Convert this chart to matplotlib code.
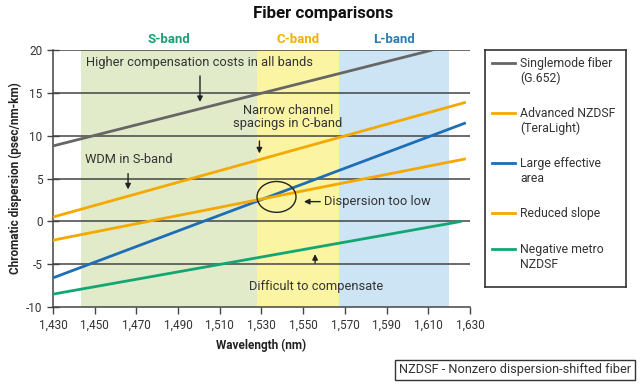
import matplotlib
matplotlib.use("Agg")
import matplotlib.pyplot as plt
from matplotlib.patches import Ellipse
from matplotlib.ticker import FuncFormatter

plt.rcParams['font.family'] = ['Roboto', 'DejaVu Sans']

# fiber lines: start / end wavelength and dispersion
fiber_names = ['Singlemode fiber\n(G.652)', 'Advanced NZDSF\n(TeraLight)',
               'Large effective\narea', 'Reduced slope', 'Negative metro\nNZDSF']
fiber_colors = ['#666666', '#F5A800', '#1E6DB5', '#F5A800', '#13A673']
fiber_x = [[1430, 1612], [1430, 1628], [1430, 1628], [1430, 1628], [1430, 1626]]
fiber_y = [[8.8, 20.0], [0.5, 13.9], [-6.6, 11.5], [-2.2, 7.3], [-8.5, 0.0]]

band_names = ['S-band', 'C-band', 'L-band']
band_edges = [[1443.5, 1528], [1528, 1567], [1567, 1620]]
band_fill = ['#E2EBC9', '#FBF4A2', '#CDE4F4']
band_text = ['#1AA070', '#F2B000', '#2A7DB8']

xticks = list(range(1430, 1631, 20))
yticks = [-10, -5, 0, 5, 10, 15, 20]

fig = plt.figure(figsize=(6.4, 3.84), dpi=100)
ax = fig.add_axes([53/640, 1-307/384, 417/640, 257/384])

for (a, b), c, name, tc in zip(band_edges, band_fill, band_names, band_text):
    ax.axvspan(a, b, color=c, lw=0, zorder=0)
    ax.text((a + b) / 2, 20.5, name, color=tc, fontsize=9.5, fontweight='bold',
            ha='center', va='bottom')

for y in yticks[1:]:
    ax.axhline(y, color='#444444', lw=1.1, zorder=1)

for xs, ys, c in zip(fiber_x, fiber_y, fiber_colors):
    ax.plot(xs, ys, color=c, lw=2, zorder=3, solid_capstyle='butt')

ax.set_xlim(1430, 1630)
ax.set_ylim(-10, 20)
ax.set_xticks(xticks)
ax.set_yticks(yticks)
ax.xaxis.set_major_formatter(FuncFormatter(lambda v, p: f'{int(v):,}'))
ax.yaxis.set_major_formatter(FuncFormatter(lambda v, p: f'{int(v)}'))
for s in ['top', 'right']:
    ax.spines[s].set_visible(False)
for s in ['left', 'bottom']:
    ax.spines[s].set_color('#444444')
    ax.spines[s].set_linewidth(1.1)
ax.tick_params(axis='x', direction='out', length=5, width=1, color='#444444',
               labelsize=8.5, labelcolor='#333333')
ax.tick_params(axis='y', direction='inout', length=8, width=1, color='#444444',
               labelsize=8.5, labelcolor='#333333')
ax.set_xlabel('Wavelength (nm)', fontsize=8.5, fontweight='bold', color='#222222',
              labelpad=5)
ax.set_ylabel('Chromatic dispersion (psec/nm-km)', fontsize=8.5, fontweight='bold',
              color='#222222', labelpad=3)

fig.text(0.505, 0.965, 'Fiber comparisons', ha='center', va='center', fontsize=12.2,
         fontweight='bold', color='#111111')

# annotations
akw = dict(arrowstyle='-|>', color='#222222', lw=1, mutation_scale=8)
tkw = dict(fontsize=9.3, color='#333333', zorder=5)
ax.text(1500.5, 18.5, 'Higher compensation costs in all bands', ha='center', va='center', **tkw)
ax.annotate('', xy=(1500.5, 13.6), xytext=(1500.5, 17.3), arrowprops=akw, zorder=5)
ax.text(1542.7, 10.7, 'Narrow channel\nspacings in C-band', ha='center', va='bottom',
        linespacing=1.0, **tkw)
ax.annotate('', xy=(1529, 7.6), xytext=(1529, 9.7), arrowprops=akw, zorder=5)
ax.text(1466.5, 7.2, 'WDM in S-band', ha='center', va='center', **tkw)
ax.annotate('', xy=(1466, 3.4), xytext=(1466, 5.9), arrowprops=akw, zorder=5)
ax.text(1560, 2.3, 'Dispersion too low', ha='left', va='center', **tkw)
ax.annotate('', xy=(1549, 2.3), xytext=(1559.5, 2.3), arrowprops=akw, zorder=5)
ax.text(1556, -7.6, 'Difficult to compensate', ha='center', va='center', **tkw)
ax.annotate('', xy=(1555.7, -3.5), xytext=(1555.7, -5.2), arrowprops=akw, zorder=5)
ax.add_patch(Ellipse((1537.2, 2.85), 18.7, 3.6, fill=False, ec='#222222', lw=1, zorder=4))

# legend box (y measured in pixels from the top of the box)
lax = fig.add_axes([485/640, 1-287/384, 141/640, 237/384])
lax.set_xlim(0, 1)
lax.set_ylim(237, 0)
lax.set_xticks([])
lax.set_yticks([])
for s in lax.spines.values():
    s.set_color('#333333')
    s.set_linewidth(1.2)
yy = 13
for name, c in zip(fiber_names, fiber_colors):
    lax.plot([0.05, 0.21], [yy, yy], color=c, lw=2)
    lax.text(0.25, yy - 6.5, name, ha='left', va='top', fontsize=8.8,
             color='#333333', linespacing=1.22)
    yy += 14 * (name.count('\n') + 1) + 22

fig.text(394/640 + 0.008, 1-370/384, 'NZDSF - Nonzero dispersion-shifted fiber',
         ha='left', va='center', fontsize=9.2, color='#333333',
         bbox=dict(boxstyle='square,pad=0.3', fc='white', ec='#333333', lw=1))

fig.savefig('out.png', dpi=100)
